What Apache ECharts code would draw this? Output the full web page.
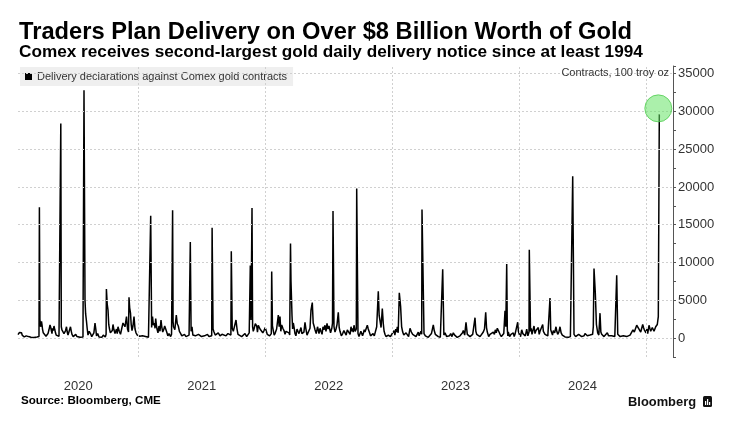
<!DOCTYPE html>
<html><head><meta charset="utf-8">
<script src="https://cdn.jsdelivr.net/npm/echarts@6/dist/echarts.min.js"></script>
<style>html,body{margin:0;padding:0;background:#fff}#c{width:744px;height:429px}</style>
</head><body><div id="c"></div>
<script>
const titleText = 'Traders Plan Delivery on Over $8 Billion Worth of Gold';
const subtitleText = 'Comex receives second-largest gold daily delivery notice since at least 1994';
const seriesName = 'Delivery declarations against Comex gold contracts';
const unitText = 'Contracts, 100 troy oz';
const sourceText = 'Source: Bloomberg, CME';
const brandText = 'Bloomberg';

// time in decimal years, daily delivery notices (contracts)
const dates = [
2020.0520,2020.0638,2020.0796,2020.0914,2020.1111,2020.1229,2020.1347,2020.1544,2020.1781,2020.2017,
2020.2175,2020.2206,2020.2246,2020.2372,2020.2451,2020.2569,2020.2726,2020.2884,2020.3042,2020.3160,
2020.3239,2020.3357,2020.3475,2020.3593,2020.3751,2020.3861,2020.3893,2020.3932,2020.4027,2020.4145,
2020.4342,2020.4460,2020.4657,2020.4775,2020.4972,2020.5169,2020.5406,2020.5689,2020.5721,2020.5800,
2020.5918,2020.6036,2020.6233,2020.6430,2020.6588,2020.6706,2020.6903,2020.7139,2020.7336,2020.7463,
2020.7486,2020.7612,2020.7730,2020.7888,2020.8006,2020.8164,2020.8282,2020.8400,2020.8597,2020.8794,
2020.9070,2020.9228,2020.9267,2020.9385,2020.9503,2020.9661,2020.9819,
2021.0016,2021.0213,2021.0449,2021.0686,2021.0946,2021.0977,2021.1119,2021.1261,2021.1371,2021.1474,
2021.1631,2021.1789,2021.1923,2021.2080,2021.2238,2021.2419,2021.2671,2021.2703,2021.2774,2021.2994,
2021.3152,2021.3341,2021.3522,2021.3759,2021.4066,2021.4098,2021.4232,2021.4389,2021.4626,2021.4862,
2021.5098,2021.5335,2021.5571,2021.5784,2021.5816,2021.5965,2021.6178,2021.6438,2021.6596,2021.6911,
2021.7068,2021.7297,2021.7328,2021.7486,2021.7699,2021.7856,2021.8148,2021.8408,2021.8668,2021.8802,
2021.8826,2021.8881,2021.8960,2021.9007,2021.9117,2021.9330,2021.9456,2021.9724,2021.9905,
2022.0102,2022.0221,2022.0481,2022.0512,2022.0638,2022.0796,2022.1032,2022.1166,2022.1300,2022.1481,
2022.1639,2022.1875,2022.1994,2022.2033,2022.2112,2022.2214,2022.2348,2022.2506,2022.2663,2022.2821,
2022.2955,2022.3136,2022.3294,2022.3451,2022.3609,2022.3711,2022.3782,2022.3924,2022.4121,2022.4239,
2022.4397,2022.4555,2022.4712,2022.4870,2022.5027,2022.5303,2022.5343,2022.5421,2022.5579,2022.5760,
2022.5894,2022.6107,2022.6288,2022.6470,2022.6627,2022.6761,2022.6895,2022.6997,2022.7179,2022.7210,
2022.7313,2022.7470,2022.7604,2022.7730,2022.7864,2022.8046,2022.8203,2022.8392,2022.8597,2022.8786,
2022.8912,2022.9046,2022.9228,2022.9306,2022.9440,2022.9622,2022.9779,2022.9968,
2023.0150,2023.0284,2023.0410,2023.0567,2023.0670,2023.0835,2023.1016,2023.1198,2023.1410,2023.1623,
2023.1883,2023.2064,2023.2198,2023.2332,2023.2356,2023.2514,2023.2726,2023.2986,2023.3246,2023.3404,
2023.3640,2023.3956,2023.3987,2023.4168,2023.4428,2023.4618,2023.4822,2023.5035,2023.5217,2023.5484,
2023.5611,2023.5823,2023.5926,2023.6139,2023.6351,2023.6533,2023.6666,2023.6927,2023.7187,2023.7376,
2023.7502,2023.7715,2023.7975,2023.8132,2023.8290,2023.8503,2023.8715,2023.8897,2023.8960,2023.9031,
2023.9078,2023.9157,2023.9369,2023.9551,2023.9685,2023.9897,
2024.0023,2024.0213,2024.0394,2024.0607,2024.0788,2024.0811,2024.0906,2024.1024,2024.1182,2024.1339,
2024.1521,2024.1655,2024.1867,2024.1970,2024.2127,2024.2419,2024.2443,2024.2577,2024.2703,2024.2915,
2024.3049,2024.3231,2024.3412,2024.3625,2024.3885,2024.4200,2024.4232,2024.4334,2024.4594,2024.4807,
2024.5067,2024.5201,2024.5382,2024.5595,2024.5855,2024.5910,2024.6012,2024.6202,2024.6383,2024.6517,
2024.6698,2024.6958,2024.7171,2024.7431,2024.7667,2024.7699,2024.7856,2024.8093,2024.8353,2024.8613,
2024.8881,2024.9086,2024.9275,2024.9456,2024.9590,2024.9748,2024.9874,
2025.0008,2025.0142,2025.0244,2025.0378,2025.0504,2025.0638,2025.0772,2025.0898,2025.0977,2025.1056
];
const values = [
450,750,700,250,350,550,200,120,80,150,
200,17300,2500,2200,1200,500,250,600,1750,900,
1300,1600,700,300,250,400,28400,1500,900,600,
1500,400,1500,500,300,200,100,300,32800,5000,
2200,400,600,300,2000,300,150,120,250,500,
6500,3700,1200,500,1800,600,1200,1500,500,2000,
2850,800,5400,3300,1000,2850,700,
300,150,100,150,200,16200,2850,2000,2600,1200,
1600,2400,800,1600,800,600,400,16900,1500,3050,
1600,600,400,200,300,12700,1500,600,150,300,
120,400,200,300,14600,800,500,300,500,300,
600,400,11500,900,2400,500,200,600,300,500,
9600,2400,17200,1500,1200,1600,1700,1300,1000,
1200,700,600,8800,1000,700,3050,2850,1750,1000,
900,700,12500,7500,3000,2000,600,1200,600,1400,
400,2100,400,600,3700,4700,2000,1100,1500,600,
900,1500,1700,1950,1600,2000,16800,1500,1200,3400,
900,600,800,1100,900,1500,1300,1700,1200,19800,
600,300,600,600,800,1700,800,500,300,1500,
6200,2300,3900,1900,500,300,150,500,
1000,1200,1500,6000,4200,800,200,500,1300,500,
200,800,500,500,17000,600,200,300,1750,500,
200,300,9100,700,400,600,700,200,250,500,
1000,2100,500,200,500,2700,500,200,800,3400,
800,500,800,1100,1300,500,400,3600,1500,9800,
1200,800,500,700,500,2100,
500,1100,500,1200,800,11700,900,500,1600,1000,
1400,900,1800,700,400,500,5300,700,1000,1500,
500,1500,400,150,100,300,21400,500,300,300,
400,600,300,400,1500,9200,6000,700,3300,500,
200,700,150,100,300,8300,300,150,100,300,
600,800,1700,1200,800,1800,1100,
700,600,1700,900,1400,900,1500,1800,2850,29600
];
// additional in-between baseline readings (same units)
const baseDates = [
2020.0580,2020.0720,2020.0850,2020.1010,2020.1170,2020.1290,2020.1450,2020.1660,2020.1900,2020.2100,
2020.2300,2020.2410,2020.2510,2020.2650,2020.2800,2020.2960,2020.3100,2020.3200,2020.3300,2020.3420,
2020.3530,2020.3670,2020.3800,2020.3980,2020.4080,2020.4200,2020.4270,2020.4400,2020.4560,2020.4720,
2020.4870,2020.5070,2020.5280,2020.5550,2020.5640,2020.5850,2020.5970,2020.6130,2020.6330,2020.6500,
2020.6650,2020.6800,2020.7000,2020.7240,2020.7400,2020.7550,2020.7670,2020.7800,2020.7950,2020.8080,
2020.8220,2020.8340,2020.8500,2020.8700,2020.8950,2020.9150,2020.9320,2020.9440,2020.9580,2020.9740,
2020.9920,2021.0110,2021.0330,2021.0570,2021.0800,
2021.1050,2021.1190,2021.1320,2021.1420,2021.1550,2021.1710,2021.1850,2021.2000,2021.2160,2021.2330,
2021.2550,2021.2620,2021.2740,2021.2880,2021.3070,2021.3240,2021.3430,2021.3640,2021.3900,2021.4000,
2021.4160,2021.4300,2021.4500,2021.4740,2021.4980,2021.5220,2021.5450,2021.5680,2021.5890,2021.6060,
2021.6300,2021.6520,2021.6750,2021.6990,2021.7200,2021.7400,2021.7590,2021.7780,2021.8000,2021.8280,
2021.8540,2021.8740,2021.9060,2021.9220,2021.9390,2021.9590,2021.9810,2022.0000,2022.0160,2022.0350,
2022.0570,2022.0710,2022.0900,2022.1100,2022.1230,2022.1390,2022.1560,2022.1760,2022.1930,2022.2160,
2022.2280,2022.2420,2022.2580,2022.2740,2022.2890,2022.3050,2022.3210,2022.3380,2022.3530,2022.3850,
2022.4020,2022.4180,2022.4320,2022.4480,2022.4630,2022.4790,2022.4950,2022.5150,2022.5250,2022.5500,
2022.5660,2022.5830,2022.6000,2022.6200,2022.6380,2022.6550,2022.6690,2022.6830,2022.6940,2022.7090,
2022.7390,2022.7540,2022.7670,2022.7800,2022.7950,2022.8120,2022.8300,2022.8500,2022.8690,2022.8980,
2022.9130,2022.9370,2022.9530,2022.9700,2022.9870,
2023.0060,2023.0220,2023.0350,2023.0480,2023.0750,2023.0920,2023.1100,2023.1300,2023.1520,2023.1750,
2023.1980,2023.2130,2023.2270,2023.2620,2023.2850,2023.3100,2023.3320,2023.3520,2023.3800,2023.4080,
2023.4300,2023.4520,2023.4720,2023.4930,2023.5130,2023.5350,2023.5550,2023.5720,2023.6030,2023.6250,
2023.6450,2023.6600,2023.6800,2023.7060,2023.7280,2023.7440,2023.7610,2023.7840,2023.8060,2023.8210,
2023.8400,2023.8610,2023.8800,2023.9120,2023.9260,2023.9460,2023.9620,2023.9790,2023.9950,
2024.0120,2024.0300,2024.0500,2024.0700,2024.0960,2024.1100,2024.1260,2024.1430,2024.1590,2024.1760,
2024.1920,2024.2050,2024.2270,2024.2350,2024.2500,2024.2640,2024.2810,2024.2980,2024.3140,2024.3320,
2024.3520,2024.3750,2024.4050,2024.4130,2024.4460,2024.4700,2024.4940,2024.5130,2024.5300,2024.5480,
2024.5700,2024.5800,2024.6100,2024.6290,2024.6450,2024.6600,2024.6830,2024.7060,2024.7300,2024.7550,
2024.7780,2024.7970,2024.8220,2024.8480,2024.8750,2024.8980,2024.9180,2024.9360,2024.9520,2024.9670,
2024.9810,2024.9940,2025.0080,2025.0190,2025.0310,2025.0440,2025.0570,2025.0710,2025.0840,2025.0940
];
const baseValues = [
300,900,400,150,300,350,300,200,250,100,
1500,1800,700,900,300,1100,1400,600,1000,1100,
400,500,150,1100,1300,400,1000,800,600,900,
200,500,350,200,150,3200,1300,900,200,700,
1200,600,300,400,150,4500,1800,700,1000,1100,
900,600,900,1300,1500,1200,4000,1800,1600,1200,
400,250,300,200,100,
1400,1700,1300,1800,700,900,1500,1100,1200,300,
200,500,2200,1100,1900,900,300,500,150,400,
900,400,300,500,200,300,500,150,1200,400,
700,200,600,200,500,1300,700,1200,350,400,
200,700,900,1900,800,1200,700,1400,500,300,
1600,400,1200,1500,900,1300,500,1100,400,1200,
1400,300,900,1000,600,800,1200,200,1300,1600,
600,1100,1300,500,1100,900,1200,700,1300,800,
1800,1400,300,1000,400,1300,500,900,800,900,
200,900,300,1100,900,1200,300,600,300,3000,
1400,900,200,400,200,
700,400,800,700,1500,400,700,200,800,300,
200,300,900,300,100,600,1000,300,100,400,
200,300,200,400,100,300,700,400,300,150,
600,900,300,300,1200,1400,200,300,500,700,
900,200,600,300,200,400,200,300,900,
200,600,300,300,1300,700,600,900,500,1100,
900,500,300,200,1100,400,700,900,800,700,
200,300,200,200,200,500,200,300,500,200,
300,500,1800,400,800,300,400,300,300,200,
500,200,300,200,400,1100,900,1500,1000,1300,
1400,900,1200,800,1300,700,1200,1100,1300,2000
];
const yearLabels = [2020, 2021, 2022, 2023, 2024];
const yearStarts = [2021, 2022, 2023, 2024, 2025];
const yTicks = [0, 5000, 10000, 15000, 20000, 25000, 30000, 35000];
const xMin = 2020.052, xMax = 2025.2135;
const yMin = -2500, yMax = 36000;

const F = '"Liberation Sans", Arial, sans-serif';
const mctx = document.createElement('canvas').getContext('2d');
function fit(text, weight, w) {
  mctx.font = weight + ' 100px ' + F;
  return Math.round(1000 * w / mctx.measureText(text).width) / 10;
}
const fsTitle = fit(titleText, 'bold', 612);
const fsSub = fit(subtitleText, 'bold', 626);
const fsSource = fit(sourceText, 'bold', 140);
const fsBrand = fit(brandText, 'bold', 68);

const labelCenters = yearLabels.map(y => (Math.max(y, xMin) + Math.min(y + 1, xMax)) / 2);
const lineData = dates.map((d, i) => [d, values[i]])
  .concat(baseDates.map((d, i) => [d, baseValues[i]]))
  .sort((a, b) => a[0] - b[0]);
const last = [dates[dates.length - 1], values[values.length - 1]];

const chart = echarts.init(document.getElementById('c'), null, {renderer: 'canvas'});
chart.setOption({
  animation: false,
  backgroundColor: '#fff',
  textStyle: {fontFamily: F},
  title: [
    {text: titleText, left: 19, top: 32 - fsTitle / 2, padding: 0,
     textStyle: {fontSize: fsTitle, fontWeight: 'bold', color: '#000', fontFamily: F}},
    {text: subtitleText, left: 19, top: 52.5 - fsSub / 2, padding: 0,
     textStyle: {fontSize: fsSub, fontWeight: 'bold', color: '#000', fontFamily: F}},
    {text: unitText, right: 75, top: 67.8, padding: 0,
     textStyle: {fontSize: 11, fontWeight: 'normal', color: '#333', fontFamily: F}},
    {text: sourceText, left: 21, top: 401 - fsSource / 2, padding: 0,
     textStyle: {fontSize: fsSource, fontWeight: 'bold', color: '#000', fontFamily: F}},
    {text: brandText, left: 628, top: 402 - fsBrand / 2, padding: 0,
     textStyle: {fontSize: fsBrand, fontWeight: 'bold', color: '#111', fontFamily: F}}
  ],
  legend: {
    data: [seriesName], left: 20, top: 67, padding: [4, 6, 4, 5],
    itemWidth: 7, itemHeight: 7, icon: 'rect', itemGap: 0,
    backgroundColor: 'rgba(232,232,232,0.7)',
    textStyle: {fontSize: 11, color: '#333', fontFamily: F},
    selectedMode: false
  },
  grid: {left: 18, right: 71, top: 66, bottom: 72, containLabel: false},
  xAxis: {
    type: 'value', min: xMin, max: xMax,
    axisLine: {show: false}, axisTick: {show: false}, splitLine: {show: false},
    axisLabel: {customValues: labelCenters, formatter: v => String(Math.floor(v + 1e-6)),
      margin: 23, fontSize: 13, color: '#333', fontFamily: F}
  },
  yAxis: {
    type: 'value', position: 'right', min: yMin, max: yMax, interval: 2500,
    axisLine: {show: true, lineStyle: {color: '#555', width: 1}},
    axisTick: {show: true, length: 3, lineStyle: {color: '#555'}},
    splitLine: {show: false},
    axisLabel: {margin: 5, fontSize: 13, color: '#333', fontFamily: F,
      formatter: v => (yTicks.indexOf(v) >= 0 ? String(v) : '')}
  },
  series: [
    {type: 'line', name: 'grid', data: [], z: 1, silent: true,
     markLine: {silent: true, symbol: 'none', animation: false,
       label: {show: false},
       lineStyle: {color: '#d0d0d0', type: [2, 2], width: 1},
       data: yTicks.map(v => ({yAxis: v})).concat(yearStarts.map(v => ({xAxis: v})))}},
    {type: 'line', name: seriesName, data: lineData, showSymbol: false, symbol: 'none',
     lineStyle: {width: 1.5, color: '#000'}, itemStyle: {color: '#000'}, z: 3},
    {type: 'scatter', name: 'highlight', data: [last], symbolSize: 27, symbolOffset: [-1, -6],
     itemStyle: {color: 'rgba(100,228,100,0.68)', borderColor: 'rgba(70,200,70,0.9)', borderWidth: 1},
     z: 5, silent: true}
  ],
  graphic: [
    {type: 'group', left: 703, top: 396, children: [
      {type: 'rect', shape: {x: 0, y: 0, width: 9, height: 11, r: 1.5}, style: {fill: '#111'}},
      {type: 'rect', shape: {x: 2, y: 5, width: 1.2, height: 4}, style: {fill: '#fff'}},
      {type: 'rect', shape: {x: 4, y: 3, width: 1.2, height: 6}, style: {fill: '#fff'}},
      {type: 'rect', shape: {x: 6, y: 6, width: 1.2, height: 3}, style: {fill: '#fff'}}
    ]}
  ]
});
</script></body></html>
